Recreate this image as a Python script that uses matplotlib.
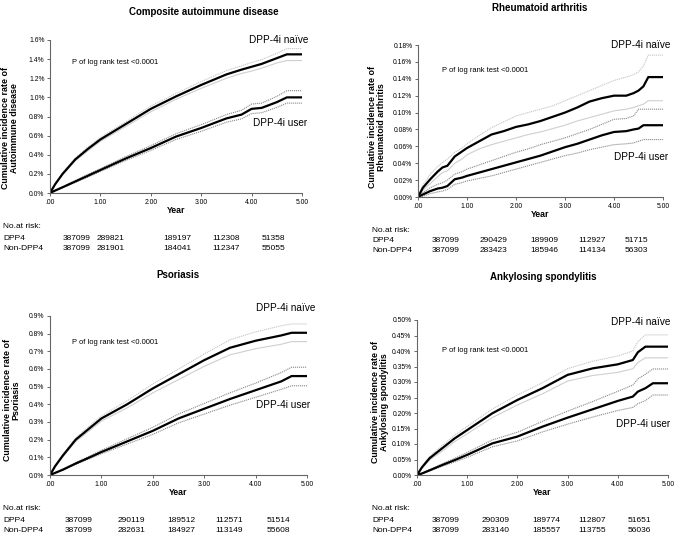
import matplotlib
matplotlib.use("Agg")
import matplotlib.pyplot as plt

plt.rcParams["font.family"] = ["Liberation Sans", "DejaVu Sans"]

W, H = 677, 536

# ---- data (cumulative incidence, %) ----
years = [0, 1, 2, 3, 4, 5]
year_labels = [".00", "1.00", "2.00", "3.00", "4.00", "5.00"]

# Composite autoimmune disease
ca_t = [0, 0.1, 0.25, 0.5, 0.75, 1.0, 1.5, 2.0, 2.5, 3.0, 3.5, 3.8, 4.0, 4.2, 4.5, 4.7, 5.0]
ca_naive = [0, 0.09, 0.2, 0.35, 0.46, 0.56, 0.72, 0.88, 1.01, 1.13, 1.24, 1.29, 1.32, 1.35, 1.41, 1.45, 1.45]
ca_naive_hi = [0, 0.095, 0.21, 0.365, 0.48, 0.58, 0.745, 0.91, 1.04, 1.165, 1.28, 1.33, 1.365, 1.395, 1.46, 1.51, 1.51]
ca_naive_lo = [0, 0.085, 0.19, 0.335, 0.44, 0.54, 0.695, 0.85, 0.98, 1.095, 1.20, 1.25, 1.275, 1.305, 1.36, 1.385, 1.385]
ca_user = [0, 0.025, 0.06, 0.12, 0.18, 0.24, 0.36, 0.47, 0.59, 0.68, 0.78, 0.82, 0.88, 0.89, 0.95, 1.00, 1.00]
ca_user_hi = [0, 0.027, 0.065, 0.13, 0.195, 0.255, 0.38, 0.495, 0.62, 0.715, 0.82, 0.865, 0.93, 0.94, 1.01, 1.07, 1.07]
ca_user_lo = [0, 0.023, 0.055, 0.11, 0.165, 0.225, 0.34, 0.445, 0.56, 0.645, 0.74, 0.775, 0.83, 0.84, 0.895, 0.94, 0.94]
ca_risk_dpp4 = ["387099", "289821", "189197", "112308", "51358"]
ca_risk_non = ["387099", "281901", "184041", "112347", "55055"]

# Rheumatoid arthritis
ra_t = [0, 0.1, 0.25, 0.4, 0.5, 0.6, 0.75, 0.9, 1.0, 1.25, 1.5, 1.75, 2.0, 2.25, 2.5, 2.75,
        3.0, 3.25, 3.5, 3.75, 4.0, 4.25, 4.4, 4.5, 4.6, 4.7, 5.0]
ra_naive = [0, 0.011, 0.021, 0.03, 0.035, 0.037, 0.048, 0.054, 0.058, 0.066, 0.074, 0.078, 0.083, 0.086,
            0.090, 0.095, 0.100, 0.106, 0.113, 0.117, 0.120, 0.120, 0.123, 0.126, 0.131, 0.142, 0.142]
ra_naive_hi = [0, 0.014, 0.027, 0.036, 0.041, 0.045, 0.053, 0.058, 0.063, 0.073, 0.082, 0.089, 0.096, 0.100,
               0.104, 0.108, 0.114, 0.120, 0.126, 0.132, 0.138, 0.142, 0.145, 0.148, 0.155, 0.168, 0.168]
ra_naive_lo = [0, 0.008, 0.016, 0.024, 0.029, 0.031, 0.040, 0.045, 0.050, 0.057, 0.062, 0.066, 0.070, 0.074,
               0.077, 0.081, 0.085, 0.090, 0.094, 0.098, 0.102, 0.104, 0.106, 0.108, 0.110, 0.114, 0.114]
ra_user = [0, 0.003, 0.007, 0.010, 0.011, 0.013, 0.021, 0.023, 0.025, 0.029, 0.033, 0.037, 0.041, 0.045,
           0.049, 0.054, 0.059, 0.063, 0.068, 0.073, 0.077, 0.078, 0.080, 0.081, 0.085, 0.085, 0.085]
ra_user_hi = [0, 0.005, 0.011, 0.015, 0.017, 0.020, 0.027, 0.030, 0.033, 0.038, 0.043, 0.048, 0.053, 0.057,
              0.062, 0.066, 0.070, 0.075, 0.080, 0.086, 0.092, 0.093, 0.096, 0.104, 0.104, 0.104, 0.104]
ra_user_lo = [0, 0.001, 0.004, 0.006, 0.007, 0.009, 0.015, 0.017, 0.019, 0.022, 0.025, 0.029, 0.033, 0.037,
              0.041, 0.045, 0.049, 0.052, 0.056, 0.059, 0.062, 0.063, 0.064, 0.066, 0.068, 0.068, 0.068]
ra_risk_dpp4 = ["387099", "290429", "189909", "112927", "51715"]
ra_risk_non = ["387099", "283423", "185946", "114134", "56303"]

# Psoriasis
ps_t = [0, 0.1, 0.25, 0.5, 0.75, 1.0, 1.5, 2.0, 2.5, 3.0, 3.5, 4.0, 4.5, 4.7, 5.0]
ps_naive = [0, 0.05, 0.11, 0.20, 0.26, 0.32, 0.40, 0.49, 0.57, 0.65, 0.72, 0.76, 0.79, 0.805, 0.805]
ps_naive_hi = [0, 0.053, 0.117, 0.21, 0.273, 0.335, 0.42, 0.515, 0.60, 0.685, 0.765, 0.81, 0.845, 0.855, 0.855]
ps_naive_lo = [0, 0.047, 0.103, 0.19, 0.247, 0.305, 0.38, 0.465, 0.54, 0.615, 0.68, 0.715, 0.74, 0.755, 0.755]
ps_user = [0, 0.012, 0.03, 0.065, 0.097, 0.13, 0.19, 0.25, 0.32, 0.375, 0.43, 0.48, 0.53, 0.56, 0.56]
ps_user_hi = [0, 0.013, 0.032, 0.07, 0.104, 0.14, 0.205, 0.27, 0.345, 0.405, 0.465, 0.52, 0.58, 0.61, 0.61]
ps_user_lo = [0, 0.011, 0.028, 0.06, 0.09, 0.12, 0.175, 0.23, 0.295, 0.345, 0.395, 0.44, 0.485, 0.505, 0.505]
ps_risk_dpp4 = ["387099", "290119", "189512", "112571", "51514"]
ps_risk_non = ["387099", "282631", "184927", "113149", "55608"]

# Ankylosing spondylitis
as_t = [0, 0.1, 0.25, 0.5, 0.75, 1.0, 1.5, 2.0, 2.5, 3.0, 3.5, 4.0, 4.3, 4.4, 4.55, 4.7, 5.0]
as_naive = [0, 0.025, 0.054, 0.086, 0.118, 0.145, 0.199, 0.242, 0.28, 0.323, 0.344, 0.357, 0.371, 0.396, 0.414, 0.414, 0.414]
as_naive_hi = [0, 0.028, 0.06, 0.095, 0.128, 0.157, 0.213, 0.258, 0.298, 0.343, 0.367, 0.384, 0.40, 0.43, 0.452, 0.452, 0.452]
as_naive_lo = [0, 0.022, 0.048, 0.077, 0.108, 0.133, 0.185, 0.226, 0.262, 0.303, 0.321, 0.331, 0.343, 0.363, 0.378, 0.378, 0.378]
as_user = [0, 0.005, 0.015, 0.032, 0.048, 0.065, 0.102, 0.124, 0.156, 0.185, 0.212, 0.239, 0.253, 0.269, 0.280, 0.296, 0.296]
as_user_hi = [0, 0.006, 0.017, 0.036, 0.054, 0.073, 0.113, 0.138, 0.173, 0.206, 0.237, 0.27, 0.29, 0.31, 0.325, 0.342, 0.342]
as_user_lo = [0, 0.004, 0.013, 0.028, 0.042, 0.057, 0.091, 0.11, 0.139, 0.164, 0.187, 0.208, 0.218, 0.23, 0.24, 0.258, 0.258]
as_risk_dpp4 = ["387099", "290309", "189774", "112807", "51651"]
as_risk_non = ["387099", "283140", "185557", "113755", "56036"]


def fx(x):
    return x / W


def fy(y):
    return 1 - y / H


panels = [
    dict(title="Composite autoimmune disease", ylab="Cumulative incidence rate of\nAutoimmune disease",
         t=ca_t, naive=ca_naive, naive_hi=ca_naive_hi, naive_lo=ca_naive_lo,
         user=ca_user, user_hi=ca_user_hi, user_lo=ca_user_lo,
         yticks=[i * 0.2 for i in range(9)], yfmt="{:.1f}%", ymax=1.6,
         box=(50, 302, 40, 193), title_xy=(204, 12), ylab_xy=(10, 128),
         naive_xy=(308, 40), user_xy=(307, 123), p_xy=(72, 63),
         risk=(ca_risk_dpp4, ca_risk_non), risk_x0=3, risk_cols=[63, 97, 163, 212, 262],
         risk_y=(227, 238, 248)),
    dict(title="Rheumatoid arthritis", ylab="Cumulative incidence rate of\nRheumatoid arthritis",
         t=ra_t, naive=ra_naive, naive_hi=ra_naive_hi, naive_lo=ra_naive_lo,
         user=ra_user, user_hi=ra_user_hi, user_lo=ra_user_lo,
         yticks=[i * 0.02 for i in range(10)], yfmt="{:.2f}%", ymax=0.18,
         box=(418, 663, 45, 197), title_xy=(540, 8), ylab_xy=(377, 127),
         naive_xy=(670, 45), user_xy=(668, 157), p_xy=(442, 70),
         risk=(ra_risk_dpp4, ra_risk_non), risk_x0=372, risk_cols=[432, 480, 530, 578, 625],
         risk_y=(230, 241, 251)),
    dict(title="Psoriasis", ylab="Cumulative incidence rate of\nPsoriasis",
         t=ps_t, naive=ps_naive, naive_hi=ps_naive_hi, naive_lo=ps_naive_lo,
         user=ps_user, user_hi=ps_user_hi, user_lo=ps_user_lo,
         yticks=[i * 0.1 for i in range(10)], yfmt="{:.1f}%", ymax=0.9,
         box=(50, 307, 316, 475), title_xy=(178, 275), ylab_xy=(12, 400),
         naive_xy=(315, 308), user_xy=(310, 405), p_xy=(72, 343),
         risk=(ps_risk_dpp4, ps_risk_non), risk_x0=3, risk_cols=[65, 118, 167, 215, 267],
         risk_y=(508, 520, 531)),
    dict(title="Ankylosing spondylitis", ylab="Cumulative incidence rate of\nAnkylosing spondylitis",
         t=as_t, naive=as_naive, naive_hi=as_naive_hi, naive_lo=as_naive_lo,
         user=as_user, user_hi=as_user_hi, user_lo=as_user_lo,
         yticks=[i * 0.05 for i in range(11)], yfmt="{:.2f}%", ymax=0.5,
         box=(417, 668, 320, 475), title_xy=(543, 277), ylab_xy=(380, 402),
         naive_xy=(670, 322), user_xy=(670, 424), p_xy=(442, 350),
         risk=(as_risk_dpp4, as_risk_non), risk_x0=372, risk_cols=[432, 482, 532, 578, 628],
         risk_y=(508, 520, 531)),
]

fig = plt.figure(figsize=(W / 100, H / 100), dpi=100)
dotted = (0, (1, 0.8))

for p in panels:
    x0, x1, ytop, ybot = p["box"]
    ax = fig.add_axes([fx(x0), fy(ybot), (x1 - x0) / W, (ybot - ytop) / H])

    # confidence bands first, then the estimates on top
    ax.plot(p["t"], p["naive_hi"], color="#c4c4c4", lw=0.8, ls=dotted)
    ax.plot(p["t"], p["naive_lo"], color="#cfcfcf", lw=0.8)
    ax.plot(p["t"], p["user_hi"], color="#8a8a8a", lw=0.8, ls=dotted)
    ax.plot(p["t"], p["user_lo"], color="#8a8a8a", lw=0.8, ls=dotted)
    ax.plot(p["t"], p["naive"], color="black", lw=1.6)
    ax.plot(p["t"], p["user"], color="black", lw=1.6)

    ax.set_xlim(0, 5)
    ax.set_ylim(0, p["ymax"])
    ax.set_xticks(years)
    ax.set_xticklabels(year_labels)
    ax.set_yticks(p["yticks"])
    ax.set_yticklabels([p["yfmt"].format(v) for v in p["yticks"]])
    for side in ("top", "right"):
        ax.spines[side].set_visible(False)
    for side in ("left", "bottom"):
        ax.spines[side].set_color("#666666")
        ax.spines[side].set_linewidth(0.8)
    ax.tick_params(axis="both", direction="out", length=2.5, width=0.7, color="#666666",
                   labelsize=4.9, pad=1.5)
    ax.set_xlabel("Year", fontsize=6.3, fontweight="bold", labelpad=0)

    fig.text(fx(p["title_xy"][0]), fy(p["title_xy"][1]), p["title"], ha="center", va="center",
             fontsize=7, fontweight="bold")
    fig.text(fx(p["ylab_xy"][0]), fy(p["ylab_xy"][1]), p["ylab"], ha="center", va="center",
             rotation=90, fontsize=6.4, fontweight="bold", linespacing=0.95)
    fig.text(fx(p["naive_xy"][0]), fy(p["naive_xy"][1]), "DPP-4i naïve", ha="right", va="center",
             fontsize=7.2)
    fig.text(fx(p["user_xy"][0]), fy(p["user_xy"][1]), "DPP-4i user", ha="right", va="center",
             fontsize=7.2)
    fig.text(fx(p["p_xy"][0]), fy(p["p_xy"][1]), "P of log rank test <0.0001", ha="left",
             va="center", fontsize=5.4)

    # number at risk table
    ry0, ry1, ry2 = p["risk_y"]
    fs = 6.0
    fig.text(fx(p["risk_x0"]), fy(ry0), "No.at risk:", ha="left", va="center", fontsize=fs)
    fig.text(fx(p["risk_x0"]), fy(ry1), "DPP4", ha="left", va="center", fontsize=fs)
    fig.text(fx(p["risk_x0"]), fy(ry2), "Non-DPP4", ha="left", va="center", fontsize=fs)
    dpp4, non = p["risk"]
    for cx, a, b in zip(p["risk_cols"], dpp4, non):
        fig.text(fx(cx), fy(ry1), a, ha="left", va="center", fontsize=fs)
        fig.text(fx(cx), fy(ry2), b, ha="left", va="center", fontsize=fs)

fig.savefig("out.png", dpi=100)
